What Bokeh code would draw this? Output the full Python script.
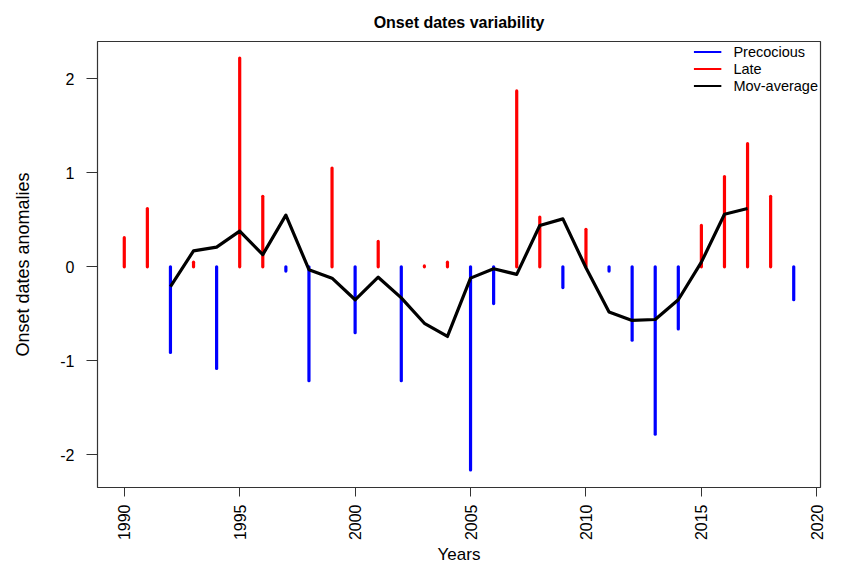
import math
from bokeh.plotting import figure
from bokeh.models import FixedTicker, Range1d
from bokeh.embed import file_html
from bokeh.resources import INLINE

# ---- data ----
years = list(range(1990, 2020))
anomalies = [0.31, 0.62, -0.91, 0.05, -1.08, 2.22, 0.75, -0.045, -1.21, 1.05,
             -0.70, 0.27, -1.21, 0.01, 0.05, -2.16, -0.39, 1.87, 0.53, -0.22,
             0.40, -0.045, -0.78, -1.78, -0.66, 0.44, 0.96, 1.31, 0.75, -0.35]
ma_years = list(range(1992, 2018))
ma_values = [-0.21, 0.17, 0.21, 0.38, 0.13, 0.55, -0.03, -0.12, -0.35, -0.11,
             -0.33, -0.60, -0.74, -0.12, -0.02, -0.08, 0.44, 0.51, -0.01, -0.48,
             -0.57, -0.56, -0.35, 0.05, 0.56, 0.62]
x_ticks = [1990, 1995, 2000, 2005, 2010, 2015, 2020]
y_ticks = [-2, -1, 0, 1, 2]
y_tick_labels = ["-2", "-1", "0", "1", "2"]
legend_labels = ["Precocious", "Late", "Mov-average"]
legend_colors = ["#0000FF", "#FF0000", "black"]

pre_x = [y for y, v in zip(years, anomalies) if v < 0]
pre_v = [v for v in anomalies if v < 0]
late_x = [y for y, v in zip(years, anomalies) if v >= 0]
late_v = [v for v in anomalies if v >= 0]

FONT = "Liberation Sans"

p = figure(width=829, height=567, output_backend="svg", toolbar_location=None,
           x_range=Range1d(1988.84, 2020.16), y_range=Range1d(-2.346, 2.396),
           min_border_left=97, min_border_right=9, min_border_top=41, min_border_bottom=70)
p.title.text = "Onset dates variability"
p.title.align = "center"
p.title.text_font = FONT
p.title.text_font_size = "16px"
p.title.text_font_style = "bold"
p.title.text_color = "black"
p.title.standoff = 21

p.grid.visible = False
p.outline_line_color = "#333333"
p.outline_line_width = 1.2

p.segment(x0=pre_x, y0=[0] * len(pre_x), x1=pre_x, y1=pre_v, line_color="#0000FF",
          line_width=3.2, line_cap="round")
p.segment(x0=late_x, y0=[0] * len(late_x), x1=late_x, y1=late_v, line_color="#FF0000",
          line_width=3.2, line_cap="round")
p.line(ma_years, ma_values, line_color="black", line_width=3.2, line_join="round")

# legend-only renderers (thinner sample lines, as in the reference), placed off-range
for lab, col in zip(legend_labels, legend_colors):
    p.line(x=[1900, 1901], y=[0, 0], line_color=col, line_width=2.2, legend_label=lab)

xa = p.xaxis[0]
xa.ticker = FixedTicker(ticks=x_ticks)
xa.bounds = (1990, 2020)
xa.major_label_orientation = math.pi / 2
xa.minor_tick_line_color = None
xa.major_tick_out = 9
xa.major_tick_in = 0
xa.major_label_standoff = 8
xa.major_label_text_font = FONT
xa.major_label_text_font_size = "16px"
xa.major_label_text_color = "black"
xa.axis_label = "Years"
xa.axis_label_text_font = FONT
xa.axis_label_text_font_size = "17px"
xa.axis_label_text_font_style = "normal"
xa.axis_label_text_color = "black"
xa.axis_label_standoff = 2
xa.axis_line_color = "#333333"
xa.major_tick_line_color = "#333333"

ya = p.yaxis[0]
ya.ticker = FixedTicker(ticks=y_ticks)
ya.major_label_overrides = {t: l for t, l in zip(y_ticks, y_tick_labels)}
ya.bounds = (-2, 2)
ya.major_label_orientation = "horizontal"
ya.minor_tick_line_color = None
ya.major_tick_out = 11
ya.major_tick_in = 0
ya.major_label_standoff = 12
ya.major_label_text_font = FONT
ya.major_label_text_font_size = "16px"
ya.major_label_text_color = "black"
ya.axis_label = "Onset dates anomalies"
ya.axis_label_text_font = FONT
ya.axis_label_text_font_size = "18px"
ya.axis_label_text_font_style = "normal"
ya.axis_label_text_color = "black"
ya.axis_label_standoff = 24
ya.axis_line_color = "#333333"
ya.major_tick_line_color = "#333333"

lg = p.legend[0]
lg.location = "top_right"
lg.border_line_color = None
lg.background_fill_color = "white"
lg.background_fill_alpha = 1.0
lg.label_text_font = FONT
lg.label_text_font_size = "14.5px"
lg.label_text_color = "black"
lg.glyph_width = 28
lg.glyph_height = 17
lg.label_height = 17
lg.spacing = 0
lg.margin = 2
lg.padding = 6
lg.label_standoff = 12

open("out.html", "w").write(file_html(p, INLINE))
